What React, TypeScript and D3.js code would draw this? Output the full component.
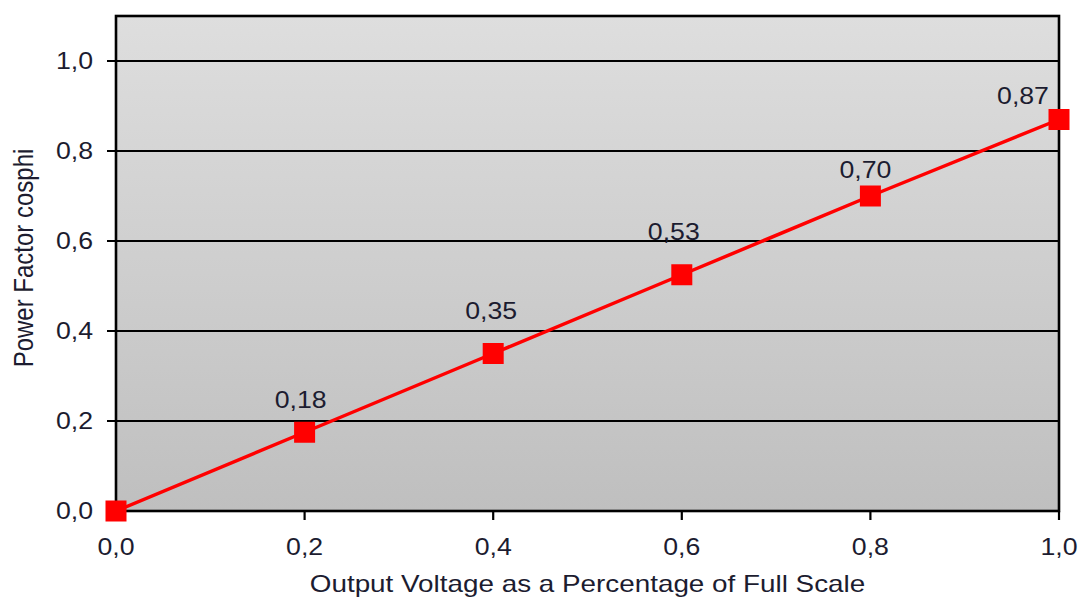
import React from "react";
import * as d3 from "d3";

const xValues = [0, 0.2, 0.4, 0.6, 0.8, 1.0];
const yValues = [0, 0.175, 0.35, 0.525, 0.7, 0.87];
const pointLabels = ["", "0,18", "0,35", "0,53", "0,70", "0,87"];
const xTicks = [0, 0.2, 0.4, 0.6, 0.8, 1.0];
const yTicks = [0, 0.2, 0.4, 0.6, 0.8, 1.0];
const xTitle = "Output Voltage as a Percentage of Full Scale";
const yTitle = "Power Factor cosphi";

// layout-only label nudges (dx, dy relative to the point)
const labelShift: [number, number][] = [
  [0, -33],
  [-4, -33],
  [-2, -43],
  [-8, -43],
  [-5, -26],
  [-36, -24],
];

const W = 1080;
const H = 599;
const M = { left: 116, right: 1059, top: 16, bottom: 511 };
const FONT = "'Liberation Sans', Arial, sans-serif";
const FS = 23;
const FT = 24;
const SX = 1.16;
const TEXT = "#1c1c30";

const fmt = (v: number) => d3.format(".1f")(v).replace(".", ",");

export default function App() {
  const x = d3.scaleLinear().domain([0, 1]).range([M.left, M.right]);
  const y = d3.scaleLinear().domain([0, 1.1]).range([M.bottom, M.top]);
  const pts = xValues.map((v, i) => [x(v), y(yValues[i])] as [number, number]);
  const line = d3.line()(pts) || "";
  const sq = 21;

  const T = (
    px: number,
    py: number,
    s: string,
    anchor: "start" | "middle" | "end",
    key?: string | number
  ) => (
    <text
      key={key}
      transform={`translate(${px},${py}) scale(${SX},1)`}
      textAnchor={anchor}
      dominantBaseline="central"
      fontFamily={FONT}
      fontSize={FS}
      fill={TEXT}
    >
      {s}
    </text>
  );

  return (
    <svg
      width={W}
      height={H}
      style={{ position: "absolute", left: 0, top: 0, background: "#fff" }}
    >
      <defs>
        <linearGradient id="bg" x1="0" y1="0" x2="0" y2="1">
          <stop offset="0" stopColor="#dedede" />
          <stop offset="1" stopColor="#bfbfbf" />
        </linearGradient>
      </defs>
      <rect
        x={M.left}
        y={M.top}
        width={M.right - M.left}
        height={M.bottom - M.top}
        fill="url(#bg)"
      />
      {yTicks.map((t) => (
        <line
          key={"g" + t}
          x1={M.left - 9}
          x2={M.right}
          y1={y(t)}
          y2={y(t)}
          stroke="#000"
          strokeWidth={2.2}
        />
      ))}
      {xTicks.map((t) => (
        <line
          key={"xt" + t}
          x1={x(t)}
          x2={x(t)}
          y1={M.bottom}
          y2={M.bottom + 9}
          stroke="#000"
          strokeWidth={2.2}
        />
      ))}
      <rect
        x={M.left}
        y={M.top}
        width={M.right - M.left}
        height={M.bottom - M.top}
        fill="none"
        stroke="#000"
        strokeWidth={2.6}
      />
      {yTicks.map((t) => T(93, y(t), fmt(t), "end", "yl" + t))}
      {xTicks.map((t) => T(x(t), 547, fmt(t), "middle", "xl" + t))}
      <path d={line} fill="none" stroke="#ff0000" strokeWidth={3.5} />
      {pts.map(([px, py], i) => (
        <rect
          key={"p" + i}
          x={px - sq / 2}
          y={py - sq / 2}
          width={sq}
          height={sq}
          fill="#ff0000"
        />
      ))}
      {pts.map(([px, py], i) =>
        pointLabels[i]
          ? T(px + labelShift[i][0], py + labelShift[i][1], pointLabels[i], "middle", "dl" + i)
          : null
      )}
      <text
        transform={`translate(${(M.left + M.right) / 2},${584}) scale(${SX},1)`}
        textAnchor="middle"
        dominantBaseline="central"
        fontFamily={FONT}
        fontSize={FT}
        fill={TEXT}
      >
        {xTitle}
      </text>
      <text
        transform={`translate(23,258) scale(${SX},1) rotate(-90)`}
        textAnchor="middle"
        dominantBaseline="central"
        fontFamily={FONT}
        fontSize={FT}
        fill={TEXT}
      >
        {yTitle}
      </text>
    </svg>
  );
}
